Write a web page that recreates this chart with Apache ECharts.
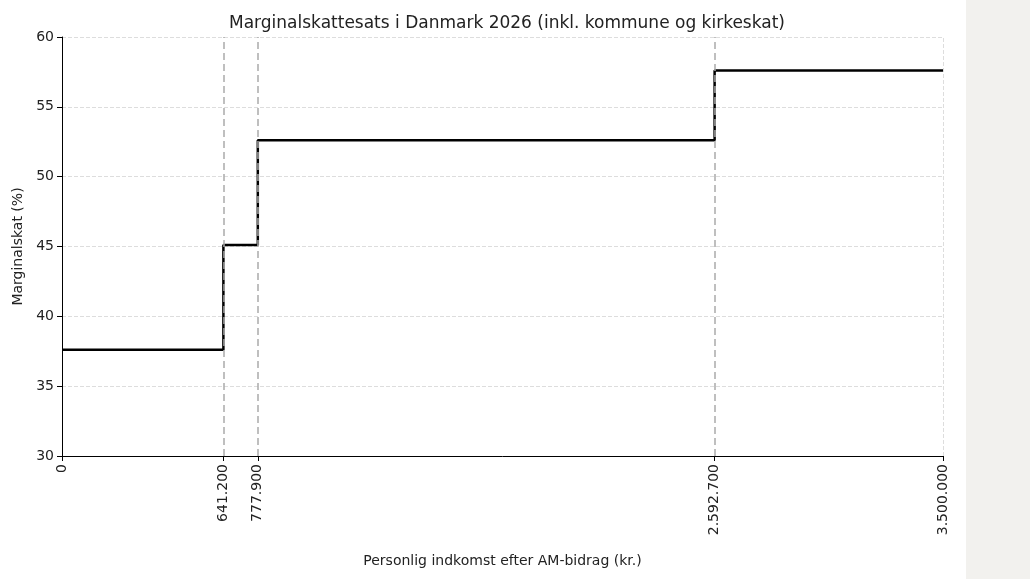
<!DOCTYPE html>
<html>
<head>
<meta charset="utf-8">
<script src="https://cdn.jsdelivr.net/npm/echarts@6/dist/echarts.min.js"></script>
<style>
  html, body { margin: 0; padding: 0; background: #fff; }
  #side { position: absolute; left: 966px; top: 0; width: 64px; height: 579px; background: #f2f1ee; }
  #chart { position: absolute; left: 0; top: 0; width: 966px; height: 579px; }
</style>
</head>
<body>
<div id="chart"></div>
<div id="side"></div>
<script>
// income breakpoints (kr.) and marginal rate (%) from each breakpoint on
const breaks = [0, 641200, 777900, 2592700, 3500000];
const rates = [37.6, 45.1, 52.6, 57.6, 57.6];
const yTicks = [30, 35, 40, 45, 50, 55, 60];

const fmt = v => String(v).replace(/\B(?=(\d{3})+(?!\d))/g, '.');

const chart = echarts.init(document.getElementById('chart'));
chart.setOption({
  animation: false,
  textStyle: { fontFamily: 'DejaVu Sans' },
  title: {
    text: 'Marginalskattesats i Danmark 2026 (inkl. kommune og kirkeskat)',
    left: 502, top: 10, textAlign: 'center',
    textStyle: { fontSize: 17, fontWeight: 'normal', color: '#222' }
  },
  grid: { left: 62, right: 23, top: 37, bottom: 123 },
  xAxis: {
    type: 'value', min: 0, max: 3500000,
    name: 'Personlig indkomst efter AM-bidrag (kr.)',
    nameLocation: 'middle', nameGap: 98,
    nameTextStyle: { fontSize: 14, color: '#222' },
    axisLine: { lineStyle: { color: '#000' } },
    axisTick: { customValues: breaks, length: 5, lineStyle: { color: '#000' } },
    axisLabel: {
      customValues: breaks, rotate: 90, fontSize: 14, color: '#222',
      formatter: v => fmt(v)
    },
    splitLine: { show: false }
  },
  yAxis: {
    type: 'value', min: 30, max: 60, interval: 5,
    name: 'Marginalskat (%)', nameLocation: 'middle', nameGap: 36,
    nameTextStyle: { fontSize: 14, color: '#222' },
    axisLine: { show: true, lineStyle: { color: '#000' } },
    axisTick: { show: true, length: 5, lineStyle: { color: '#000' } },
    axisLabel: { fontSize: 14, color: '#222' },
    splitLine: { lineStyle: { color: '#ddd', type: 'dashed' } }
  },
  series: [{
    type: 'line', step: 'end', symbol: 'none',
    data: breaks.map((b, i) => [b, rates[i]]),
    lineStyle: { color: '#000', width: 2.5 },
    markLine: {
      silent: true, symbol: 'none', label: { show: false },
      lineStyle: { color: '#aaa', type: [7, 4], width: 1.5 },
      data: breaks.slice(1, 4).map(b => ({ xAxis: b }))
    }
  }, {
    type: 'line', symbol: 'none', data: [],
    markLine: {
      silent: true, symbol: 'none', label: { show: false },
      lineStyle: { color: '#ddd', type: 'dashed', width: 1 },
      data: [{ xAxis: 3500000 }]
    }
  }]
});
</script>
</body>
</html>
